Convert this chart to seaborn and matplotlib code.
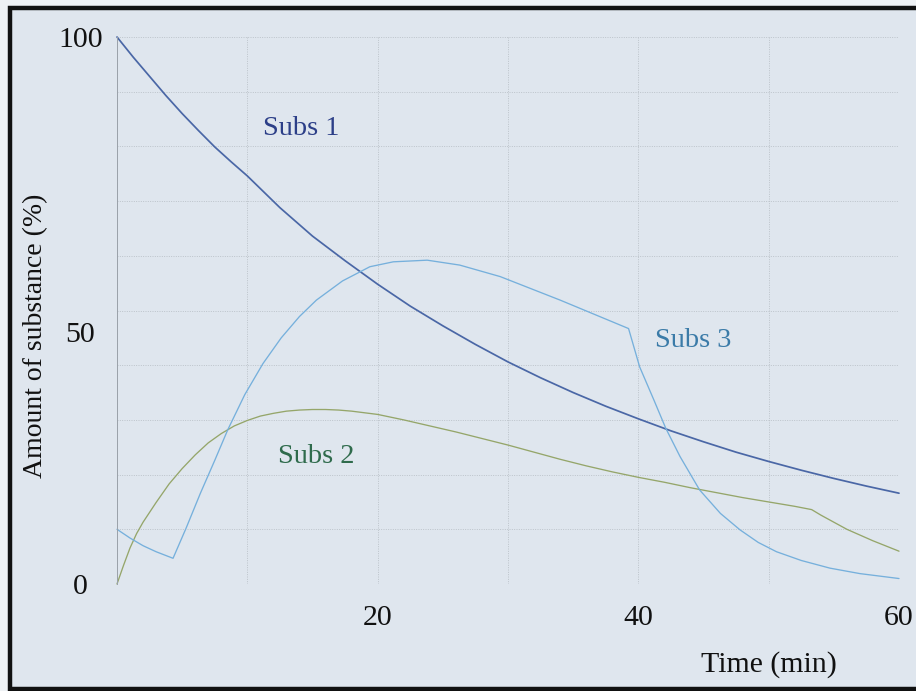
import numpy as np
import pandas as pd
import matplotlib
matplotlib.use("Agg")
import matplotlib.pyplot as plt
import matplotlib.transforms as mtransforms
from matplotlib.patches import Rectangle
import seaborn as sns

# Amount of each substance (%) over time (min)
time_subs1 = [0, 1.25, 2.5, 3.75, 5, 6.25, 7.5, 8.75, 10, 12.5, 15, 17.5, 20,
              22.5, 25, 27.5, 30, 32.5, 35, 37.5, 40, 42.5, 45, 47.5, 50, 52.5,
              55, 57.5, 60]
amount_subs1 = [100, 96.3, 92.8, 89.3, 86.0, 82.9, 79.9, 77.2, 74.6, 68.8, 63.6,
                59.1, 54.8, 50.8, 47.2, 43.8, 40.6, 37.7, 35.0, 32.5, 30.2, 28.0,
                26.0, 24.1, 22.4, 20.8, 19.3, 17.9, 16.6]

time_subs2 = [0, 0.5, 1, 1.5, 2, 3, 4, 5, 6, 7, 8, 9, 10, 11, 12, 13, 14, 15, 16,
              17, 18, 19, 20, 22, 24, 26, 28, 30, 32, 34, 36, 38, 40, 42, 44, 46,
              48, 50, 52, 53.3, 54, 55, 56, 58, 60]
amount_subs2 = [0, 3.4, 6.6, 9.2, 11.3, 14.9, 18.3, 21.1, 23.6, 25.8, 27.5, 28.9,
                29.9, 30.7, 31.2, 31.6, 31.8, 31.9, 31.9, 31.8, 31.6, 31.3, 31.0,
                30.0, 28.9, 27.8, 26.6, 25.4, 24.1, 22.8, 21.6, 20.5, 19.5, 18.6,
                17.6, 16.7, 15.8, 15.0, 14.2, 13.6, 12.6, 11.3, 10.0, 7.9, 6.0]

time_subs3 = [0, 1, 2, 3, 4.3, 5.3, 6.4, 7.5, 8.5, 9.8, 11.2, 12.6, 14, 15.3,
              17.3, 19.4, 21.2, 23.8, 26.3, 29.4, 34, 39.25, 40.1, 41.2, 42.1,
              43.2, 44.7, 46.3, 47.8, 49.2, 50.6, 52.5, 54.7, 57, 60]
amount_subs3 = [10.0, 8.4, 7.0, 5.9, 4.7, 10.2, 16.6, 22.6, 28.2, 34.6, 40.3,
                45.0, 48.9, 51.9, 55.4, 58.0, 58.9, 59.2, 58.3, 56.2, 51.9, 46.7,
                39.7, 33.6, 28.5, 23.3, 17.2, 12.9, 9.9, 7.6, 5.9, 4.3, 2.9, 1.9,
                1.0]

series_names = ["Subs 1", "Subs 2", "Subs 3"]
x_ticks = [20, 40, 60]
y_ticks = [0, 50, 100]

line_colors = {"Subs 1": "#4a67a6", "Subs 2": "#95a66a", "Subs 3": "#76b0dc"}
label_colors = {"Subs 1": "#2c3f88", "Subs 2": "#2f6b4c", "Subs 3": "#3b7ba8"}
line_widths = {"Subs 1": 1.25, "Subs 2": 0.95, "Subs 3": 0.95}

frames = []
for name, t, a in zip(series_names,
                      [time_subs1, time_subs2, time_subs3],
                      [amount_subs1, amount_subs2, amount_subs3]):
    frames.append(pd.DataFrame({"time": t, "amount": a, "substance": name}))
df = pd.concat(frames, ignore_index=True)

sns.set_style("white")
plt.rcParams["font.family"] = ["Liberation Serif", "DejaVu Serif"]

W, H = 916, 691
fig = plt.figure(figsize=(W / 100, H / 100), dpi=100)
fig.patch.set_facecolor("#eef1f4")

# page panel with a heavy black frame, kept behind the axes
panel = Rectangle((9.5 / W, 2.0 / H), 1.2, 1 - 10.0 / H,
                  transform=fig.transFigure, facecolor="#dfe6ee",
                  edgecolor="#111111", linewidth=3.2, zorder=-10)
fig.patches.append(panel)

ax = fig.add_axes([117 / W, 107 / H, 782 / W, 547 / H])
ax.set_facecolor("none")
ax.set_zorder(1)

sns.lineplot(data=df, x="time", y="amount", hue="substance",
             palette=line_colors, size="substance", sizes=line_widths,
             estimator=None, legend=False, ax=ax)
for ln in ax.lines:
    ln.set_clip_on(False)
    ln.set_solid_joinstyle("round")

ax.set_xlim(0, 60)
ax.set_ylim(0, 100)
ax.set_xticks(x_ticks)
ax.set_xticks([0, 10, 30, 50], minor=True)
ax.set_yticks(y_ticks)
ax.set_yticks([10, 20, 30, 40, 60, 70, 80, 90], minor=True)
ax.set_xticklabels([str(v) for v in x_ticks])
ax.set_yticklabels([str(v) for v in y_ticks])

ax.grid(which="both", color="#bcc3ca", linestyle=(0, (1.0, 1.4)), linewidth=0.7)
ax.set_axisbelow(True)

for side in ["top", "right", "bottom"]:
    ax.spines[side].set_visible(False)
ax.spines["left"].set_color("#9aa1a9")
ax.spines["left"].set_linewidth(0.7)

ax.tick_params(axis="both", which="both", length=0, labelsize=21.5,
               labelcolor="#111111")
ax.tick_params(axis="x", pad=15)
ax.tick_params(axis="y", pad=26.5)
for lbl in ax.get_yticklabels():
    lbl.set_horizontalalignment("center")

# the middle y label sits a little below its gridline
mid_tick = ax.yaxis.get_major_ticks()[1]
mid_tick.label1.set_transform(
    mid_tick.label1.get_transform()
    + mtransforms.ScaledTranslation(0, -22 / 100, fig.dpi_scale_trans))

ax.set_xlabel("Time (min)", fontsize=21.5, color="#111111",
              ha="center", va="center")
ax.xaxis.set_label_coords(0.834, -0.148)
ax.set_ylabel("Amount of substance (%)", fontsize=20, color="#111111",
              ha="center", va="center")
ax.yaxis.set_label_coords(-0.1036, 0.4534)

# series names written next to their curves
label_pos = {"Subs 1": (14.16, 82.1), "Subs 2": (15.27, 22.2),
             "Subs 3": (44.2, 43.4)}
for name in series_names:
    x, y = label_pos[name]
    ax.text(x, y, name, color=label_colors[name], fontsize=20.5,
            ha="center", va="baseline")

fig.savefig("out.png", dpi=100, facecolor=fig.get_facecolor())
